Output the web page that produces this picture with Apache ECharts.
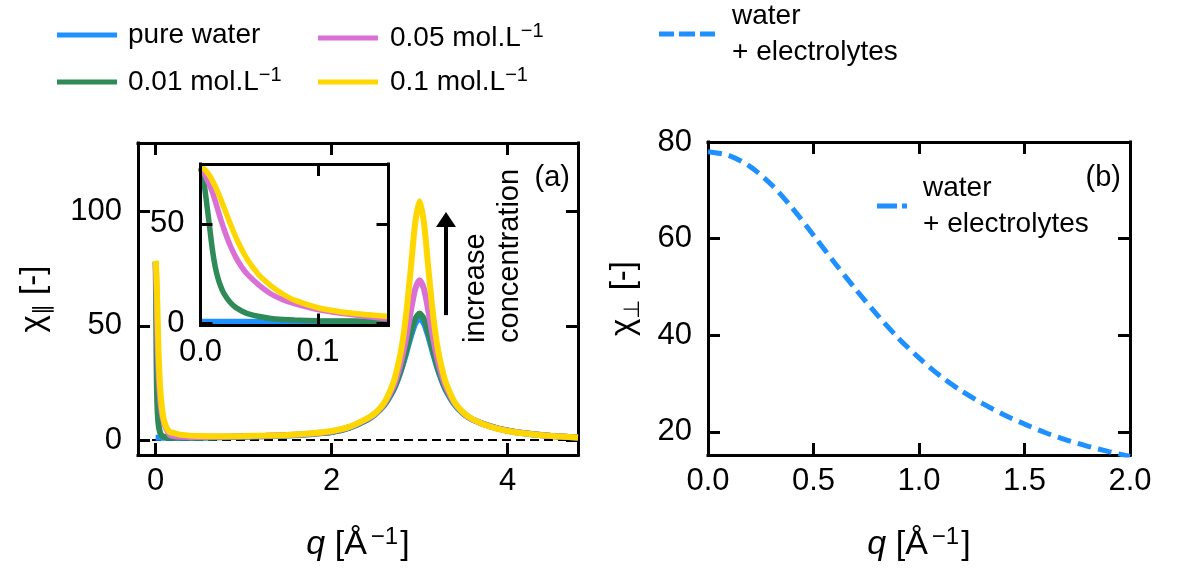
<!DOCTYPE html>
<html><head><meta charset="utf-8">
<script src="https://cdn.jsdelivr.net/npm/echarts@6/dist/echarts.min.js"></script>
<style>html,body{margin:0;padding:0;background:#fff}#c{width:1186px;height:574px}</style>
</head><body><div id="c"></div>
<script>
// ---------- data ----------
const qLow = [0, 0.0025, 0.005, 0.0075, 0.01, 0.0125, 0.015, 0.0175, 0.02, 0.025, 0.03, 0.035, 0.04, 0.05, 0.06, 0.07, 0.08, 0.1, 0.12, 0.14, 0.16];
const pureLow = [1.0, 1.0, 1.0, 1.0, 1.0, 1.0, 1.0, 1.0, 1.0, 1.0, 1.0, 1.0, 1.0, 1.0, 1.0, 1.0, 1.0, 1.0, 1.0, 1.0, 1.0];
const c001Low = [78, 72.5, 61.5, 49.6, 37.6, 28.5, 22.5, 18.2, 15.0, 10.8, 8.0, 6.3, 5.0, 3.5, 2.5, 2.0, 1.7, 1.4, 1.25, 1.15, 1.1];
const c005Low = [77.8, 75.8, 73, 69.7, 66, 61.5, 56.5, 51.7, 47.3, 39.5, 33.3, 28.4, 24.6, 19.1, 14.8, 12.0, 10.0, 7.0, 5.1, 3.6, 2.3];
const c01Low  = [78.5, 77.8, 76.3, 74.3, 71.8, 68.9, 65.6, 62, 58.2, 50.5, 43.3, 37.2, 32, 24.2, 18.9, 14.8, 11.7, 7.9, 5.8, 4.5, 3.5];

const qHigh = [0.2, 0.3, 0.5, 0.75, 1.0, 1.25, 1.5, 1.75, 2.0, 2.2, 2.4, 2.5, 2.6, 2.7, 2.75, 2.8, 2.85, 2.9, 2.95, 3.0, 3.05, 3.1, 3.15, 3.2, 3.25, 3.3, 3.4, 3.5, 3.6, 3.8, 4.0, 4.2, 4.5, 4.8];
const pureHigh = [1.0, 1.0, 1.1, 1.3, 1.5, 1.7, 2.0, 2.6, 3.5, 5.4, 8.8, 11.5, 15.4, 21.7, 26.2, 31.8, 38.4, 45.3, 51, 53.2, 51, 45.3, 38.4, 31.8, 26.2, 21.7, 15.4, 11.5, 9.0, 6.0, 4.1, 2.9, 1.8, 1.1];
const c001High = [1.1, 1.1, 1.2, 1.4, 1.6, 1.8, 2.1, 2.7, 3.6, 5.5, 9.0, 11.7, 15.7, 22.1, 26.7, 32.4, 39.5, 46.9, 53, 55.4, 53, 46.9, 39.5, 32.4, 26.7, 22.1, 15.7, 11.7, 9.1, 6.1, 4.2, 3.0, 1.8, 1.2];
const c005High = [1.8, 1.5, 1.4, 1.5, 1.7, 1.9, 2.2, 2.8, 3.8, 5.7, 9.2, 11.8, 16.0, 23.2, 28.8, 36.0, 45.5, 56.4, 66, 70, 66, 56.4, 45.5, 36.0, 28.8, 23.2, 16.0, 11.8, 9.1, 6.0, 4.1, 3.0, 1.8, 1.2];
const c01High  = [3.2, 2.3, 1.8, 1.7, 1.8, 2.0, 2.3, 2.9, 4.0, 5.8, 9.4, 12, 16.5, 25, 32, 41.5, 56, 75, 95, 104.5, 95, 75, 56, 41.5, 32, 25, 16.5, 12, 9.2, 5.9, 4.0, 2.9, 1.8, 1.2];

const qB = [0, 0.1, 0.2, 0.3, 0.4, 0.5, 0.6, 0.7, 0.8, 0.9, 1.0, 1.1, 1.2, 1.3, 1.4, 1.5, 1.6, 1.7, 1.8, 1.9, 2.0];
const chiPerp = [78.0, 77.2, 74.9, 71.2, 66.3, 60.7, 55.0, 49.5, 44.3, 39.5, 35.3, 31.6, 28.5, 25.9, 23.6, 21.6, 19.8, 18.3, 17.0, 15.9, 14.9];

const ticksAX = [0, 2, 4];
const ticksAY = [0, 50, 100];
const ticksInsetX = [0, 0.1];
const ticksInsetY = [0, 50];
const ticksBX = [0, 0.5, 1.0, 1.5, 2.0];
const ticksBY = [20, 40, 60, 80];

const names = ['pure water', '0.01 mol.L−1', '0.05 mol.L−1', '0.1 mol.L−1'];
const nameB = 'water + electrolytes';
const colors = ['#1e90ff', '#2e8b57', '#da70d6', '#ffd700'];

// annotation arrow (data coordinates)
const arrowQ = 3.3, arrowFrom = 54.7, arrowTo = 96.5;

// ---------- build ----------
const F = "'Liberation Sans', 'DejaVu Sans', Arial, sans-serif";
const zip = (xs, ys) => xs.map((x, i) => [x, ys[i]]);
const lowSets = [pureLow, c001Low, c005Low, c01Low];
const highSets = [pureHigh, c001High, c005High, c01High];
const qAll = qLow.concat(qHigh);

function xAx(grid, min, max, ticks, pos, showLabel, fmt, extra) {
  return Object.assign({
    type: 'value', gridIndex: grid, min: min, max: max, position: pos, nameMoveOverlap: false,
    axisLine: { show: true, onZero: false, lineStyle: { color: '#000', width: 3, cap: 'square' } },
    axisTick: { show: true, inside: true, length: 12, customValues: ticks, lineStyle: { color: '#000', width: 3 } },
    axisLabel: { show: showLabel, customValues: ticks, color: '#000', fontSize: 31, fontFamily: F, margin: 11,
      formatter: fmt },
    splitLine: { show: false }
  }, extra || {});
}
function yAx(grid, min, max, ticks, pos, showLabel, extra) {
  return Object.assign({
    type: 'value', gridIndex: grid, min: min, max: max, position: pos, nameMoveOverlap: false,
    axisLine: { show: true, onZero: false, lineStyle: { color: '#000', width: 3, cap: 'square' } },
    axisTick: { show: true, inside: true, length: 12, customValues: ticks, lineStyle: { color: '#000', width: 3 } },
    axisLabel: { show: showLabel, customValues: ticks, color: '#000', fontSize: 31, fontFamily: F, margin: 16 },
    splitLine: { show: false }
  }, extra || {});
}
const f0 = v => String(v);
const f1 = v => v.toFixed(1);
const qName = {
  name: '{i|q}{n| [Å}{s|−1}{n|]}',
  nameLocation: 'middle', nameGap: 70,
  nameTextStyle: { color: '#000', fontFamily: F, rich: {
    i: { fontSize: 34, fontStyle: 'italic', fontFamily: F, lineHeight: 40 },
    n: { fontSize: 34, fontFamily: F, lineHeight: 40 },
    s: { fontSize: 24, fontFamily: F, lineHeight: 10, verticalAlign: 'top', padding: [0, 2, 0, 4] } } }
};
function yName(sub, gap) {
  return {
    name: '{n|χ}{b|' + sub + '}{n| [-]}', nameLocation: 'middle', nameGap: gap, nameRotate: 90,
    nameTextStyle: { color: '#000', fontFamily: F, rich: {
      n: { fontSize: 33, fontFamily: F, lineHeight: 40 },
      b: { fontSize: 22, fontFamily: F, lineHeight: 14, verticalAlign: 'bottom' } } }
  };
}

const series = [];
names.forEach((n, k) => {
  const s = {
    type: 'line', name: n, xAxisIndex: 0, yAxisIndex: 0, data: zip(qAll, lowSets[k].concat(highSets[k])),
    showSymbol: false, symbol: 'none', smooth: 0.25,
    lineStyle: { color: colors[k], width: 6 }, itemStyle: { color: colors[k] }, z: 3 + k, silent: true
  };
  if (k === 0) {
    s.markLine = { silent: true, symbol: 'none', label: { show: false }, z: 2,
      lineStyle: { color: '#000', width: 1.8, type: [9, 5] }, data: [{ yAxis: 0 }] };
  }
  if (k === 3) {
    s.markLine = { silent: true, symbol: ['none', 'triangle'], symbolSize: [20, 15], label: { show: false },
      lineStyle: { color: '#000', width: 4, type: 'solid' }, itemStyle: { color: '#000' },
      data: [[{ coord: [arrowQ, arrowFrom] }, { coord: [arrowQ, arrowTo] }]] };
  }
  series.push(s);
});
names.forEach((n, k) => {
  series.push({
    type: 'line', name: n, xAxisIndex: 2, yAxisIndex: 2, data: zip(qLow, lowSets[k]),
    showSymbol: false, symbol: 'none', smooth: 0.25,
    lineStyle: { color: colors[k], width: 5.5 }, itemStyle: { color: colors[k] }, z: 13 + k, silent: true
  });
});
series.push({
  type: 'line', name: nameB, xAxisIndex: 4, yAxisIndex: 4, data: zip(qB, chiPerp),
  showSymbol: false, symbol: 'none', smooth: 0.3,
  lineStyle: { color: '#1e90ff', width: 5, type: [14, 7] }, itemStyle: { color: '#1e90ff' }, silent: true
});

const legendRich = {
  t: { fontSize: 28, fontFamily: F, lineHeight: 34, color: '#000' },
  w: { fontSize: 28, fontFamily: F, lineHeight: 36, color: '#000' },
  s: { fontSize: 20, fontFamily: F, lineHeight: 14, verticalAlign: 'top', color: '#000' }
};
function legFmt(name) {
  if (name === nameB) return '{w|water}\n{w|+ electrolytes}';
  if (name.indexOf('mol') >= 0) return '{t|' + name.replace('−1', '') + '}{s|−1}';
  return '{t|' + name + '}';
}
function leg(name, left, top, w, pad, icon) {
  return { data: [name], left: left, top: top, orient: 'vertical', padding: 0, itemWidth: w, itemHeight: 5,
    icon: icon, selectedMode: false, formatter: legFmt,
    textStyle: { fontSize: 28, fontFamily: F, color: '#000', padding: [0, 0, 0, pad], rich: legendRich } };
}
const dashTop = 'path://M0 0H15V5H0Z M20 0H36V5H20Z M41 0H56V5H41Z';
const dashB = 'path://M0 0H20V5H0Z M25 0H30V5H25Z';

const option = {
  animation: false,
  backgroundColor: '#fff',
  grid: [
    { left: 138, top: 143, width: 440, height: 312, containLabel: false },
    { left: 200.5, top: 164, width: 188, height: 161.5, containLabel: false, show: true, backgroundColor: '#fff', borderWidth: 0, z: 5 },
    { left: 708, top: 142, width: 422, height: 313, containLabel: false }
  ],
  xAxis: [
    xAx(0, -0.2, 4.8, ticksAX, 'bottom', true, f0, qName),
    xAx(0, -0.2, 4.8, ticksAX, 'top', false, f0),
    xAx(1, 0, 0.16, ticksInsetX, 'bottom', true, f1, { z: 20 }),
    xAx(1, 0, 0.16, ticksInsetX, 'top', false, f1, { z: 20 }),
    xAx(2, 0, 2, ticksBX, 'bottom', true, f1, qName),
    xAx(2, 0, 2, ticksBX, 'top', false, f1)
  ],
  yAxis: [
    yAx(0, -6.5, 130, ticksAY, 'left', true, yName('∥', 84)),
    yAx(0, -6.5, 130, ticksAY, 'right', false),
    yAx(1, -1, 80, ticksInsetY, 'left', true, { z: 20 }),
    yAx(1, -1, 80, ticksInsetY, 'right', false, { z: 20 }),
    yAx(2, 15.2, 80, ticksBY, 'left', true, yName('⊥', 64)),
    yAx(2, 15.2, 80, ticksBY, 'right', false)
  ],
  legend: [
    leg(names[0], 57, 21, 60, 6, 'rect'),
    leg(names[1], 57, 65, 60, 6, 'rect'),
    leg(names[2], 318, 21, 60, 7, 'rect'),
    leg(names[3], 318, 65, 60, 7, 'rect'),
    leg(nameB, 659, 2, 56, 12, dashTop),
    leg(nameB, 877, 174, 30, 11, dashB)
  ],
  graphic: [
    { type: 'text', x: 475.5, y: 343, rotation: Math.PI / 2, z: 50,
      style: { text: 'increase', fontSize: 29, fontFamily: F, fill: '#000', align: 'left', verticalAlign: 'middle' } },
    { type: 'text', x: 510, y: 343, rotation: Math.PI / 2, z: 50,
      style: { text: 'concentration', fontSize: 29, fontFamily: F, fill: '#000', align: 'left', verticalAlign: 'middle' } },
    { type: 'text', x: 570, y: 178, z: 50,
      style: { text: '(a)', fontSize: 29, fontFamily: F, fill: '#000', align: 'right', verticalAlign: 'middle' } },
    { type: 'text', x: 1121, y: 178, z: 50,
      style: { text: '(b)', fontSize: 29, fontFamily: F, fill: '#000', align: 'right', verticalAlign: 'middle' } }
  ],
  series: series
};
const chart = echarts.init(document.getElementById('c'), null, { renderer: 'canvas' });
chart.setOption(option);
</script></body></html>
